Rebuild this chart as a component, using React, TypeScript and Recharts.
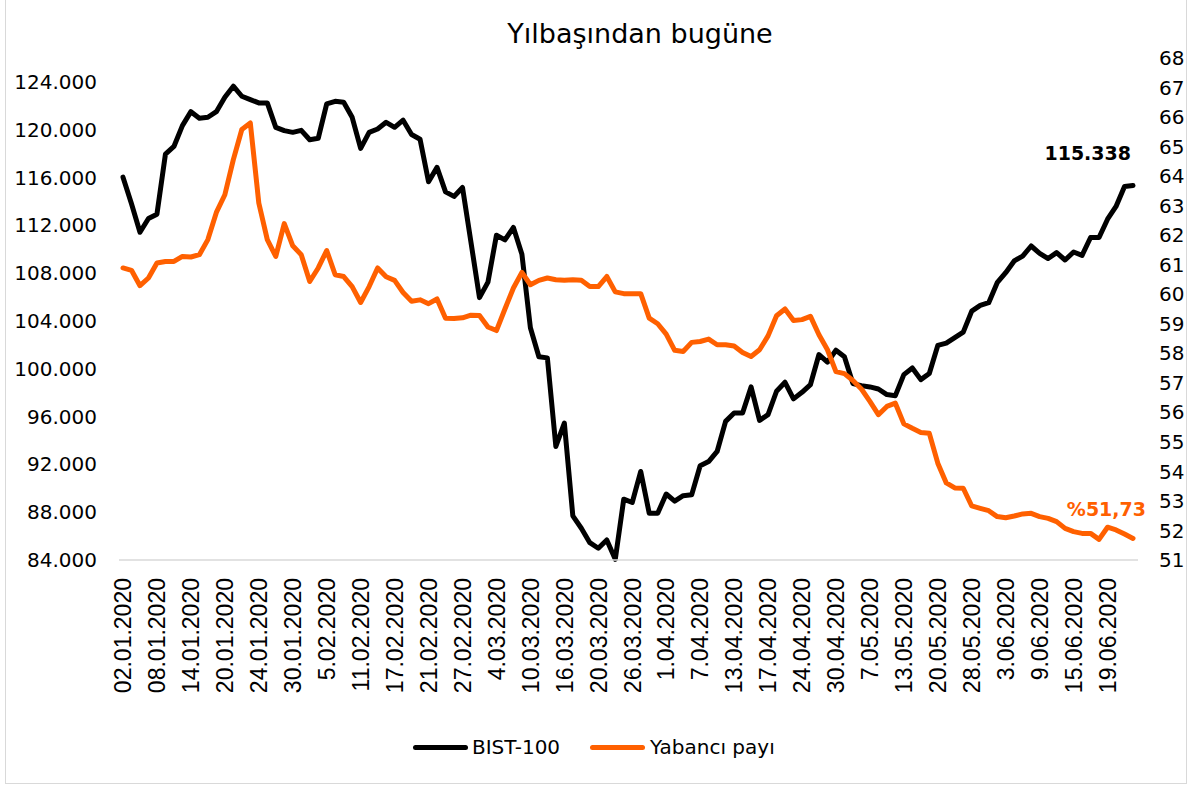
import { LineChart, Line, XAxis, YAxis } from "recharts";

// trading days, 02.01.2020 – 24.06.2020
const dates = [
  "02.01.2020", "03.01.2020", "06.01.2020", "07.01.2020", "08.01.2020", "09.01.2020", "10.01.2020", "13.01.2020",
  "14.01.2020", "15.01.2020", "16.01.2020", "17.01.2020", "20.01.2020", "21.01.2020", "22.01.2020", "23.01.2020",
  "24.01.2020", "27.01.2020", "28.01.2020", "29.01.2020", "30.01.2020", "31.01.2020",
  "3.02.2020", "4.02.2020", "5.02.2020", "6.02.2020", "7.02.2020", "10.02.2020", "11.02.2020", "12.02.2020",
  "13.02.2020", "14.02.2020", "17.02.2020", "18.02.2020", "19.02.2020", "20.02.2020", "21.02.2020", "24.02.2020",
  "25.02.2020", "26.02.2020", "27.02.2020", "28.02.2020",
  "2.03.2020", "3.03.2020", "4.03.2020", "5.03.2020", "6.03.2020", "9.03.2020", "10.03.2020", "11.03.2020",
  "12.03.2020", "13.03.2020", "16.03.2020", "17.03.2020", "18.03.2020", "19.03.2020", "20.03.2020", "23.03.2020",
  "24.03.2020", "25.03.2020", "26.03.2020", "27.03.2020", "30.03.2020", "31.03.2020",
  "1.04.2020", "2.04.2020", "3.04.2020", "6.04.2020", "7.04.2020", "8.04.2020", "9.04.2020", "10.04.2020",
  "13.04.2020", "14.04.2020", "15.04.2020", "16.04.2020", "17.04.2020", "20.04.2020", "21.04.2020", "22.04.2020",
  "24.04.2020", "27.04.2020", "28.04.2020", "29.04.2020", "30.04.2020",
  "4.05.2020", "5.05.2020", "6.05.2020", "7.05.2020", "8.05.2020", "11.05.2020", "12.05.2020", "13.05.2020",
  "14.05.2020", "15.05.2020", "18.05.2020", "20.05.2020", "21.05.2020", "22.05.2020", "27.05.2020", "28.05.2020",
  "29.05.2020",
  "1.06.2020", "2.06.2020", "3.06.2020", "4.06.2020", "5.06.2020", "8.06.2020", "9.06.2020", "10.06.2020",
  "11.06.2020", "12.06.2020", "15.06.2020", "16.06.2020", "17.06.2020", "18.06.2020", "19.06.2020", "22.06.2020",
  "23.06.2020", "24.06.2020",
];

const bist100 = [
  116030, 113800, 111420, 112570, 112930, 117960, 118600, 120340, 121510, 120960,
  121040, 121510, 122720, 123640, 122800, 122520, 122240, 122240, 120200, 119920,
  119780, 119950, 119160, 119280, 122160, 122380, 122300, 121040, 118440, 119780,
  120060, 120620, 120200, 120800, 119600, 119200, 115640, 116850, 114800, 114420,
  115170, 110580, 105950, 107250, 111170, 110780, 111820, 109580, 103430, 101000,
  100910, 93500, 95460, 87690, 86660, 85450, 84980, 85680, 84060, 89090,
  88810, 91410, 87910, 87910, 89520, 88930, 89380, 89450, 91880, 92240,
  93080, 95600, 96300, 96300, 98480, 95680, 96160, 98120, 98870, 97480,
  98030, 98680, 101190, 100550, 101550, 101000, 98760, 98590, 98480, 98310,
  97840, 97750, 99510, 100070, 99090, 99600, 101950, 102140, 102600, 103060,
  104820, 105300, 105530, 107200, 108040, 109020, 109430, 110270, 109660, 109220,
  109720, 109100, 109770, 109490, 110980, 110980, 112510, 113580, 115250, 115338,
];

const yabanciPayi = [
  60.89, 60.81, 60.29, 60.55, 61.06, 61.11, 61.11, 61.28, 61.26, 61.34,
  61.85, 62.77, 63.37, 64.56, 65.58, 65.8, 63.09, 61.85, 61.28, 62.39,
  61.64, 61.34, 60.43, 60.89, 61.48, 60.66, 60.6, 60.26, 59.72, 60.26,
  60.89, 60.59, 60.47, 60.06, 59.76, 59.81, 59.68, 59.84, 59.19, 59.18,
  59.2, 59.29, 59.28, 58.89, 58.77, 59.5, 60.21, 60.74, 60.32, 60.47,
  60.55, 60.49, 60.47, 60.49, 60.47, 60.26, 60.26, 60.6, 60.08, 60.02,
  60.02, 60.02, 59.19, 59.0, 58.65, 58.1, 58.06, 58.37, 58.4, 58.48,
  58.29, 58.29, 58.25, 58.03, 57.89, 58.12, 58.59, 59.27, 59.5, 59.11,
  59.14, 59.25, 58.63, 58.12, 57.38, 57.31, 57.08, 56.79, 56.37, 55.92,
  56.2, 56.31, 55.61, 55.46, 55.32, 55.29, 54.28, 53.61, 53.44, 53.43,
  52.83, 52.75, 52.67, 52.47, 52.43, 52.49, 52.56, 52.58, 52.47, 52.41,
  52.3, 52.07, 51.96, 51.9, 51.9, 51.7, 52.11, 52.02, 51.88, 51.73,
];

const leftTicks = [84000, 88000, 92000, 96000, 100000, 104000, 108000, 112000, 116000, 120000, 124000];
const rightTicks = [51, 52, 53, 54, 55, 56, 57, 58, 59, 60, 61, 62, 63, 64, 65, 66, 67, 68];

const rows = dates.map((d, i) => ({ date: d, bist: bist100[i], yabanci: yabanciPayi[i] }));

const ORANGE = "#ff6000";
const FONT = "'DejaVu Sans', Verdana, sans-serif";
const DATE_FONT = "'Liberation Sans Narrow', 'Liberation Sans', Arial, sans-serif";
const LAST = rows.length - 1;

const fmtThousands = (v: number) =>
  `${Math.floor(v / 1000)}.${String(Math.round(v % 1000)).padStart(3, "0")}`;

function DateTick({ x, y, payload }: any) {
  return (
    <text
      x={x}
      y={y}
      transform={`rotate(-90, ${x}, ${y})`}
      textAnchor="end"
      dy="0.36em"
      fontSize={23}
      fontFamily={DATE_FONT}
      fill="#000"
    >
      {payload.value}
    </text>
  );
}

function BistLabel({ x, y, index, value }: any) {
  if (index !== LAST) return null;
  return (
    <text x={x - 2} y={y - 32} dy="0.36em" textAnchor="end" fontSize={19} fontWeight="bold" fontFamily={FONT} fill="#000">
      {fmtThousands(value)}
    </text>
  );
}

function PayLabel({ x, y, index, value }: any) {
  if (index !== LAST) return null;
  return (
    <text x={x + 13} y={y - 29} dy="0.36em" textAnchor="end" fontSize={19} fontWeight="bold" fontFamily={FONT} fill={ORANGE}>
      {`%${value.toFixed(2).replace(".", ",")}`}
    </text>
  );
}

export default function App() {
  return (
    <div style={{ position: "absolute", left: 0, top: 0, width: 1195, height: 787, background: "#fff", fontFamily: FONT }}>
      <div
        style={{
          position: "absolute",
          left: 5,
          top: -2,
          width: 1182,
          height: 786,
          border: "1px solid #d9d9d9",
          boxSizing: "border-box",
        }}
      />
      <div style={{ position: "absolute", left: 0, width: 1280, top: 18, textAlign: "center", fontSize: 27, color: "#000" }}>
        Yılbaşından bugüne
      </div>
      <LineChart width={1195} height={787} data={rows} margin={{ top: 58, right: 0, bottom: 0, left: 0 }}>
        <XAxis
          dataKey="date"
          interval={3}
          height={227}
          padding={{ left: 4, right: 5 }}
          axisLine={{ stroke: "#d9d9d9", strokeWidth: 1.5 }}
          tickLine={false}
          tickSize={0}
          tickMargin={18}
          tick={<DateTick />}
        />
        <YAxis
          yAxisId="left"
          width={119}
          domain={[84000, 126000]}
          ticks={leftTicks}
          tickFormatter={fmtThousands}
          axisLine={false}
          tickLine={false}
          tickSize={0}
          tickMargin={22}
          tick={{ fontSize: 20, fontFamily: FONT, fill: "#000" }}
        />
        <YAxis
          yAxisId="right"
          orientation="right"
          width={57}
          domain={[51, 68]}
          ticks={rightTicks}
          axisLine={false}
          tickLine={false}
          tickSize={0}
          tickMargin={21}
          tick={{ fontSize: 20, fontFamily: FONT, fill: "#000", textAnchor: "start" }}
        />
        <Line
          yAxisId="left"
          type="linear"
          dataKey="bist"
          name="BIST-100"
          stroke="#000"
          strokeWidth={5}
          strokeLinejoin="round"
          strokeLinecap="round"
          dot={false}
          isAnimationActive={false}
          label={<BistLabel />}
        />
        <Line
          yAxisId="right"
          type="linear"
          dataKey="yabanci"
          name="Yabancı payı"
          stroke={ORANGE}
          strokeWidth={5}
          strokeLinejoin="round"
          strokeLinecap="round"
          dot={false}
          isAnimationActive={false}
          label={<PayLabel />}
        />
      </LineChart>
      <div style={{ position: "absolute", top: 735, left: 413, display: "flex", alignItems: "center", fontSize: 20, color: "#000" }}>
        <span style={{ display: "inline-block", width: 55, height: 5, borderRadius: 3, background: "#000", marginRight: 4 }} />
        <span>BIST-100</span>
        <span style={{ display: "inline-block", width: 55, height: 5, borderRadius: 3, background: ORANGE, marginLeft: 30, marginRight: 5 }} />
        <span>Yabancı payı</span>
      </div>
    </div>
  );
}
